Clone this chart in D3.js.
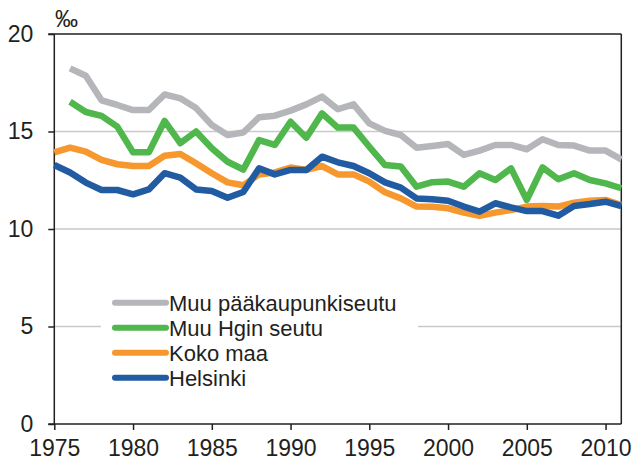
<!DOCTYPE html>
<html>
<head>
<meta charset="utf-8">
<script src="https://cdn.jsdelivr.net/npm/d3@7"></script>
<style>
  body { margin: 0; background: #fff; }
  svg text { font-family: "Liberation Sans", Arial, sans-serif; fill: #231f20; }
</style>
</head>
<body>
<svg id="chart" width="633" height="459"></svg>
<script>
// years 1975..2011
var years = d3.range(1975, 2012);

// Muu pääkaupunkiseutu (from 1976)
var muuPk = [null, 18.24, 17.86, 16.6, 16.36, 16.1, 16.1, 16.9, 16.7, 16.2, 15.33, 14.82, 14.95,
  15.73, 15.81, 16.07, 16.39, 16.79, 16.14, 16.39, 15.42, 15.03, 14.82, 14.17, 14.26,
  14.36, 13.8, 14.02, 14.31, 14.31, 14.09, 14.6, 14.31, 14.28, 14.02, 14.02, 13.57];
// Muu Hgin seutu (from 1976)
var muuHgin = [null, 16.53, 16.0, 15.8, 15.25, 13.93, 13.93, 15.54, 14.4, 15.0, 14.14, 13.45, 13.05,
  14.56, 14.31, 15.5, 14.68, 15.93, 15.2, 15.2, 14.22, 13.28, 13.2, 12.17, 12.4,
  12.43, 12.17, 12.86, 12.51, 13.11, 11.49, 13.16, 12.55, 12.86, 12.51, 12.34, 12.09];
// Koko maa
var kokoMaa = [13.93, 14.17, 13.97, 13.54, 13.32, 13.23, 13.23, 13.76, 13.85, 13.37, 12.86, 12.39, 12.24,
  12.8, 12.9, 13.15, 13.03, 13.23, 12.8, 12.8, 12.43, 11.88, 11.57, 11.15, 11.14,
  11.06, 10.84, 10.67, 10.84, 10.97, 11.15, 11.18, 11.15, 11.35, 11.45, 11.49, 11.23];
// Helsinki
var helsinki = [13.28, 12.9, 12.38, 12.0, 12.0, 11.78, 12.03, 12.86, 12.63, 12.03, 11.95, 11.6, 11.9,
  13.11, 12.8, 13.03, 13.03, 13.71, 13.42, 13.23, 12.86, 12.39, 12.12, 11.57, 11.52,
  11.45, 11.15, 10.89, 11.32, 11.11, 10.92, 10.92, 10.68, 11.18, 11.28, 11.4, 11.18];

var seriesNames = ["Muu pääkaupunkiseutu", "Muu Hgin seutu", "Koko maa", "Helsinki"];
var seriesValues = [muuPk, muuHgin, kokoMaa, helsinki];
var seriesColors = ["#b5b6b9", "#4fb74b", "#f7982f", "#215ba1"];

var xTicks = [1975, 1980, 1985, 1990, 1995, 2000, 2005, 2010];
var yTicks = [0, 5, 10, 15, 20];

var svg = d3.select("#chart");
var plotLeft = 54.3, plotRight = 621.3, plotTop = 34, plotBottom = 424;

var x = d3.scaleLinear().domain([1975, 2011]).range([plotLeft, plotRight]);
var y = d3.scaleLinear().domain([0, 20]).range([plotBottom, plotTop]);
var ink = "#231f20";

// gridlines
svg.append("g").selectAll("line")
  .data([5, 10, 15])
  .enter().append("line")
  .attr("x1", plotLeft).attr("x2", plotRight)
  .attr("y1", function(d){return y(d);}).attr("y2", function(d){return y(d);})
  .attr("stroke", "#c9c9c9").attr("stroke-width", 1.5);

// top and right frame
svg.append("line").attr("x1", plotLeft - 6).attr("x2", plotRight).attr("y1", y(20)).attr("y2", y(20))
  .attr("stroke", ink).attr("stroke-width", 1.5);
svg.append("line").attr("x1", plotRight).attr("x2", plotRight).attr("y1", y(20)).attr("y2", y(0))
  .attr("stroke", ink).attr("stroke-width", 1.5);

// y axis
var yAxis = svg.append("g")
  .attr("transform", "translate(" + plotLeft + ",0)")
  .call(d3.axisLeft(y).tickValues(yTicks).tickSize(6).tickPadding(15).tickFormat(d3.format("d")));
yAxis.attr("font-size", null).attr("font-family", null);
yAxis.selectAll("text").style("font-size", "23px").attr("fill", ink);
yAxis.selectAll("line, path").attr("stroke", ink).attr("stroke-width", 1.5);
yAxis.select(".domain").attr("d", "M0," + plotTop + "V" + plotBottom);

// x axis
var xAxis = svg.append("g")
  .attr("transform", "translate(0," + plotBottom + ")")
  .call(d3.axisBottom(x).tickValues(xTicks).tickSize(6).tickFormat(d3.format("d")));
xAxis.attr("font-size", null).attr("font-family", null);
xAxis.selectAll("text").style("font-size", "23px").attr("fill", ink)
  .attr("dy", null).attr("y", 31.5);
xAxis.selectAll("line, path").attr("stroke", ink).attr("stroke-width", 1.5);
xAxis.select(".domain").attr("d", "M" + (plotLeft - 6) + ",0H" + plotRight);

// unit label
svg.append("text").attr("x", 55).attr("y", 27).style("font-size", "23px").text("‰");

// legend backdrop
svg.append("rect").attr("x", 101).attr("y", 288).attr("width", 317).attr("height", 100).attr("fill", "#fff");

// lines
var line = d3.line()
  .defined(function(d){return d != null;})
  .x(function(d, i){return x(years[i]);})
  .y(function(d){return y(d);});

seriesValues.forEach(function(vals, i){
  svg.append("path")
    .datum(vals)
    .attr("d", line)
    .attr("fill", "none")
    .attr("stroke", seriesColors[i])
    .attr("stroke-width", 6.5)
    .attr("stroke-linejoin", "round");
});

// legend
var legend = svg.append("g").selectAll("g")
  .data(seriesNames)
  .enter().append("g")
  .attr("transform", function(d, i){return "translate(115," + (302.7 + i * 25) + ")";});
legend.append("line")
  .attr("x1", 0).attr("x2", 51).attr("y1", 0).attr("y2", 0)
  .attr("stroke", function(d, i){return seriesColors[i];})
  .attr("stroke-width", 6).attr("stroke-linecap", "round");
legend.append("text")
  .attr("x", 54).attr("y", 8)
  .style("font-size", "22px")
  .text(function(d){return d;});
</script>
</body>
</html>
